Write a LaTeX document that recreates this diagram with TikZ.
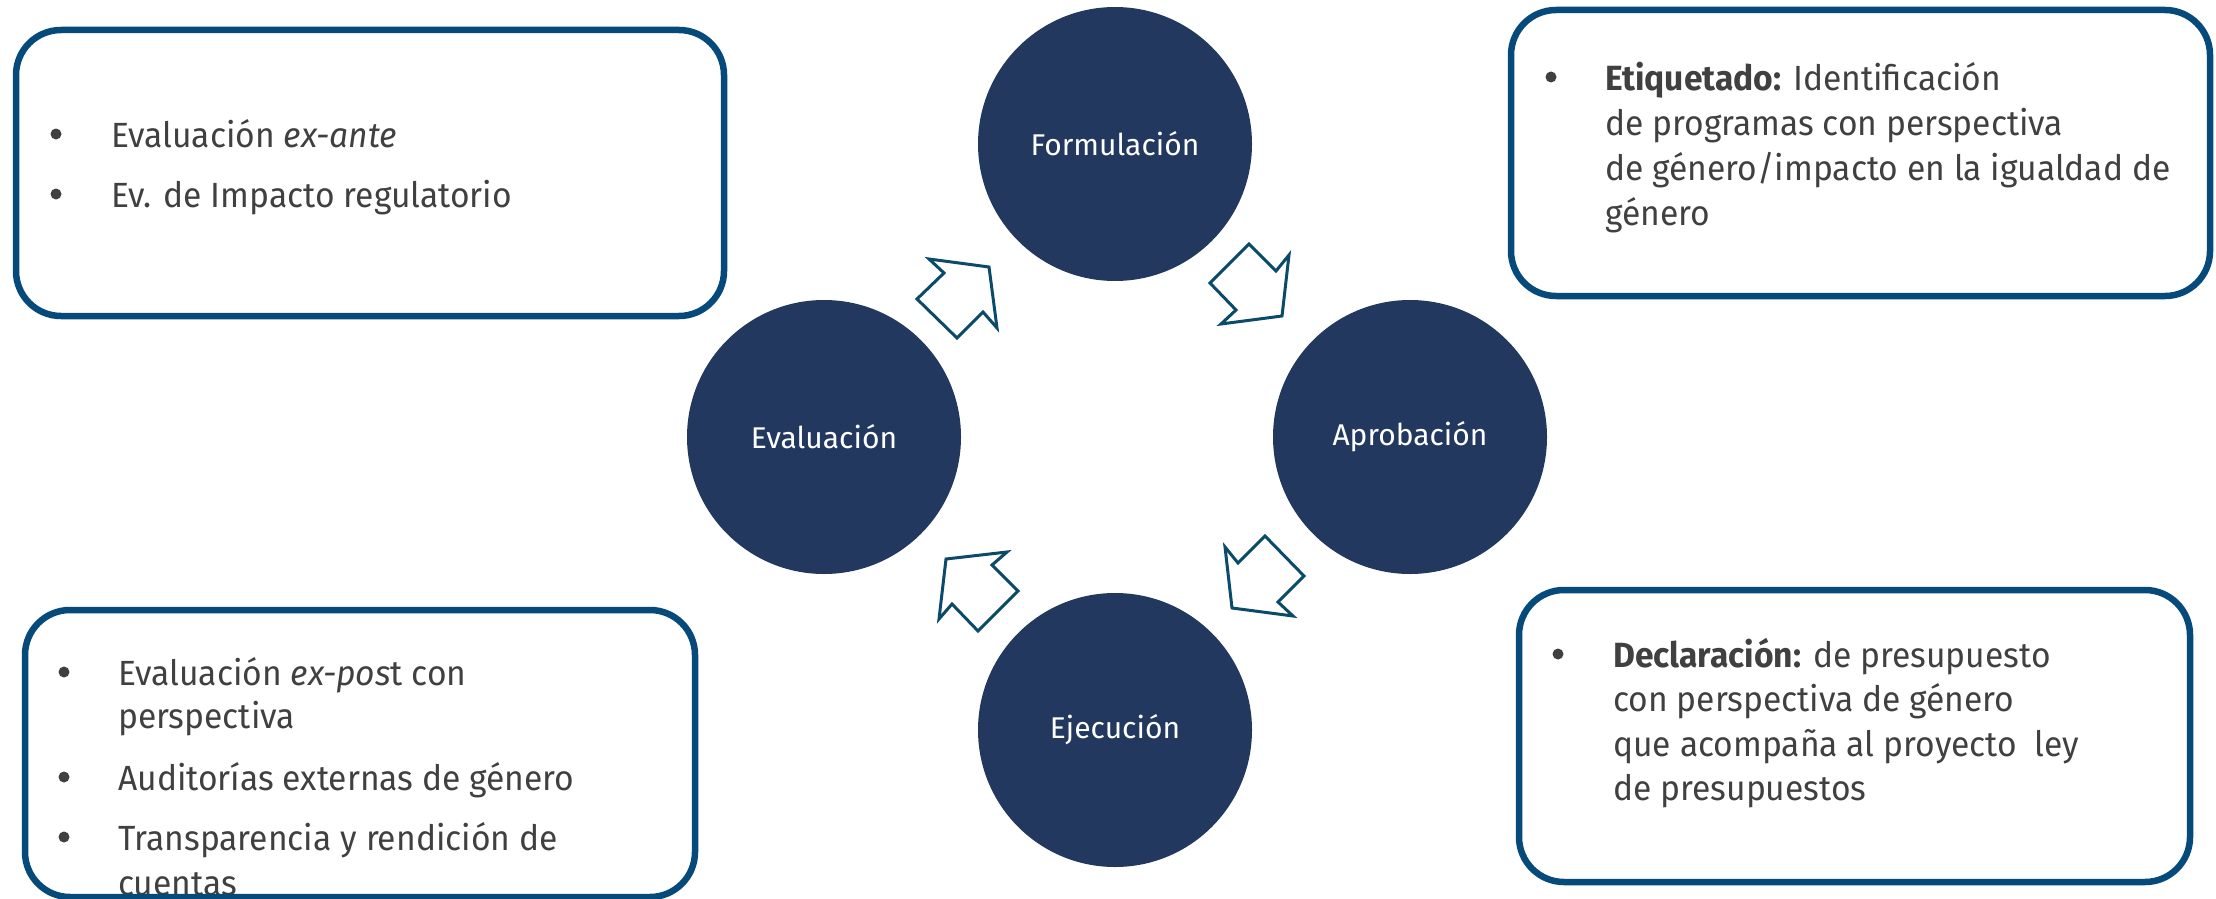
\documentclass[tikz,border=0pt]{standalone}
\usepackage{fontspec}
\setmainfont{Fira Sans}[FakeStretch=0.96]
\newfontfamily\circfont{Fira Sans}
\definecolor{navy}{HTML}{22385F}
\definecolor{boxblue}{HTML}{054A7A}
\definecolor{arrowblue}{HTML}{0B4A69}
\definecolor{textgray}{HTML}{404040}
\begin{document}
\begin{tikzpicture}[x=1pt,y=-1pt,
  box/.style={draw=boxblue, line width=6.5pt, rounded corners=45pt, inner sep=0pt},
  stage/.style={circle, fill=navy, minimum size=274pt, inner sep=0pt, text=white, font=\circfont\fontsize{30}{36}\selectfont},
  txt/.style={anchor=base west, inner sep=0pt, text=textgray, font=\fontsize{35}{44}\selectfont},
  bul/.style={circle, fill=textgray, minimum size=11pt, inner sep=0pt},
  blockarrow/.style={draw=arrowblue, line width=3pt, fill=white, line join=miter}]
\useasboundingbox (0,0) rectangle (2216,899);

% stages
\node[stage] (F) at (1115,144) {Formulación};
\node[stage] (A) at (1410,437) {Aprobación};
\node[stage] (J) at (1115,730) {Ejecución};
\node[stage] (V) at (824,437) {Evaluación};

% block arrows
\draw[blockarrow] (929,259) -- (989,267) -- (997,328) -- (983,312) -- (957,338) -- (917,299) -- (944,273) -- cycle;
\draw[blockarrow] (1249,244) -- (1276,271) -- (1289,255) -- (1282,316) -- (1221,324) -- (1236,310) -- (1210,283) -- cycle;
\draw[blockarrow] (1225,547) -- (1238,563) -- (1265,536) -- (1304,576) -- (1278,602) -- (1293,616) -- (1232,608) -- cycle;
\draw[blockarrow] (946,559) -- (1007,552) -- (992,565) -- (1018,591) -- (978,631) -- (952,604) -- (939,619) -- cycle;

% top-left text
\node[bul] (b11) at (56,134) {};
\node[txt] (t11) at (111,147) {Evaluación \textit{ex-ante}};
\node[bul] (b12) at (56,194) {};
\node[txt] (t12) at (111,207) {Ev. de Impacto regulatorio};

% top-right text
\node[bul] (b21) at (1551,77) {};
\node[txt] (t21) at (1605,90) {\textbf{Etiquetado:} Identificación};
\node[txt] (t22) at (1605,135) {de programas con perspectiva};
\node[txt] (t23) at (1605,180) {de género/impacto en la igualdad de};
\node[txt] (t24) at (1605,225) {género};

% bottom-left text
\node[bul] (b31) at (64,672) {};
\node[txt] (t31) at (118,685) {Evaluación \textit{ex-pos}t con};
\node[txt] (t32) at (118,728) {perspectiva};
\node[bul] (b33) at (64,777) {};
\node[txt] (t33) at (118,790) {Auditorías externas de género};
\node[bul] (b34) at (64,837) {};
\node[txt] (t34) at (118,850) {Transparencia y rendición de};
\node[txt] (t35) at (118,895) {cuentas};

% bottom-right text
\node[bul] (b41) at (1558,654) {};
\node[txt] (t41) at (1613,667) {\textbf{Declaración:} de presupuesto};
\node[txt] (t42) at (1613,711) {con perspectiva de género};
\node[txt] (t43) at (1613,756) {que acompaña al proyecto\ \ ley};
\node[txt] (t44) at (1613,800) {de presupuestos};

% boxes
\node[box, minimum width=708pt, minimum height=286pt] (B1) at (370,173) {};
\node[box, minimum width=699pt, minimum height=286pt] (B2) at (1860.5,153) {};
\node[box, minimum width=670pt, minimum height=287pt] (B3) at (360,753.5) {};
\node[box, minimum width=671pt, minimum height=292pt] (B4) at (1854.5,736) {};
\end{tikzpicture}
\end{document}
